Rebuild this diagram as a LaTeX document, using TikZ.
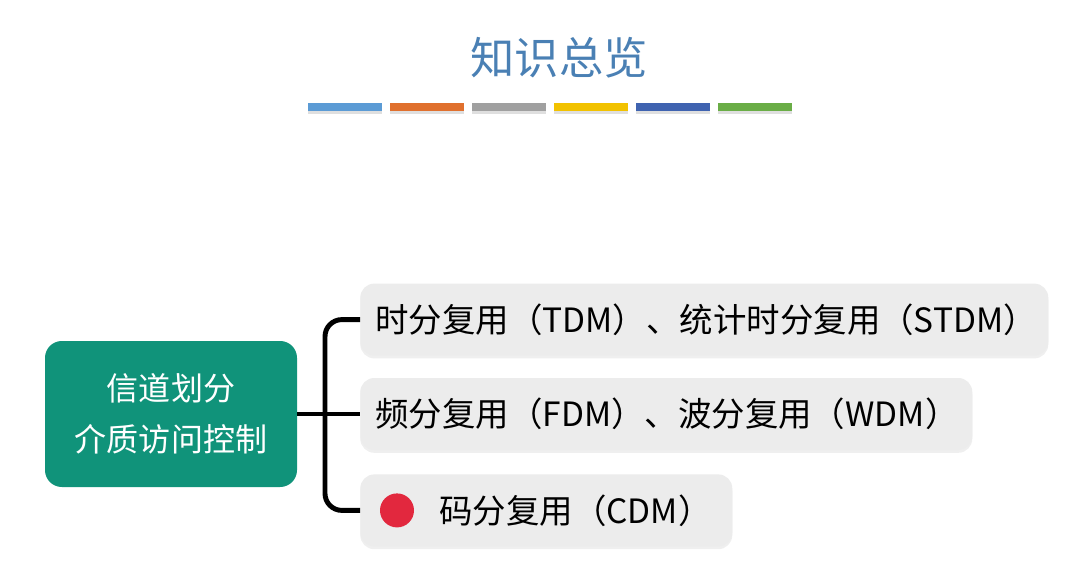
\documentclass[tikz,border=0pt]{standalone}
\usepackage{fontspec}
\setmainfont{Noto Sans CJK SC}
\definecolor{KVTitle}{HTML}{4A80B4}
\definecolor{KVBlue}{HTML}{5B9BD5}
\definecolor{KVOrange}{HTML}{E0702E}
\definecolor{KVGrey}{HTML}{A0A0A0}
\definecolor{KVGold}{HTML}{F2C200}
\definecolor{KVNavy}{HTML}{3F63B0}
\definecolor{KVGreen}{HTML}{6AAD46}
\definecolor{KVTeal}{HTML}{10937A}
\definecolor{KVLeaf}{HTML}{ECECEC}
\definecolor{KVRed}{HTML}{E2283E}
\usetikzlibrary{positioning,shadows,calc}

\begin{document}
\begin{tikzpicture}[
    bar/.style={rectangle, fill=#1, minimum width=1.85cm, minimum height=0.2cm, inner sep=0pt,
      anchor=north west, drop shadow={opacity=0.25, shadow xshift=0pt, shadow yshift=-2pt}},
    root/.style={rectangle, rounded corners=12pt, fill=KVTeal, text=white, align=center,
      minimum width=6.3cm, minimum height=3.65cm, font=\fontsize{22.8}{36}\selectfont},
    leaf/.style={rectangle, rounded corners=10pt, fill=KVLeaf, anchor=west, text width=#1,
      align=left, minimum height=1.8cm, inner xsep=0.375cm, text=black,
      drop shadow={opacity=0.12, shadow xshift=0pt, shadow yshift=-2pt},
      font=\fontsize{23.8}{28}\selectfont},
    link/.style={line width=3.5pt, rounded corners=12pt}]
  \useasboundingbox (0,0) rectangle (26.65,-14.7);
  \fill[white] (0,0) rectangle (26.65,-14.7);
  % title and colour strip
  \node[text=KVTitle, font=\fontsize{31.5}{36}\selectfont] (title) at (13.98,-1.45) {知识总览};
  \foreach \c [count=\i from 0] in {KVBlue,KVOrange,KVGrey,KVGold,KVNavy,KVGreen}
    \node[bar=\c] (bar\i) at ({7.7+2.05*\i},-2.575) {};
  % tree
  \node[root] (root) at (4.275,-10.35) {信道划分\\介质访问控制};
  \node[leaf=16.45cm] (tdm) at (9.0,-7.99) {时分复用（TDM）、统计时分复用（STDM）};
  \node[leaf=14.55cm] (fdm) at (9.0,-10.35) {频分复用（FDM）、波分复用（WDM）};
  \node[leaf=8.55cm] (cdm) at (9.0,-12.76) {\hspace*{1.6cm}码分复用（CDM）};
  \node[circle, fill=KVRed, minimum size=0.85cm, inner sep=0pt] (dot) at (9.925,-12.76) {};
  \coordinate (split) at (8.125,-10.35);
  \draw[link] (tdm.west) -| (split) |- (cdm.west);
  \draw[link] (root.east) -- (fdm.west);
\end{tikzpicture}
\end{document}
